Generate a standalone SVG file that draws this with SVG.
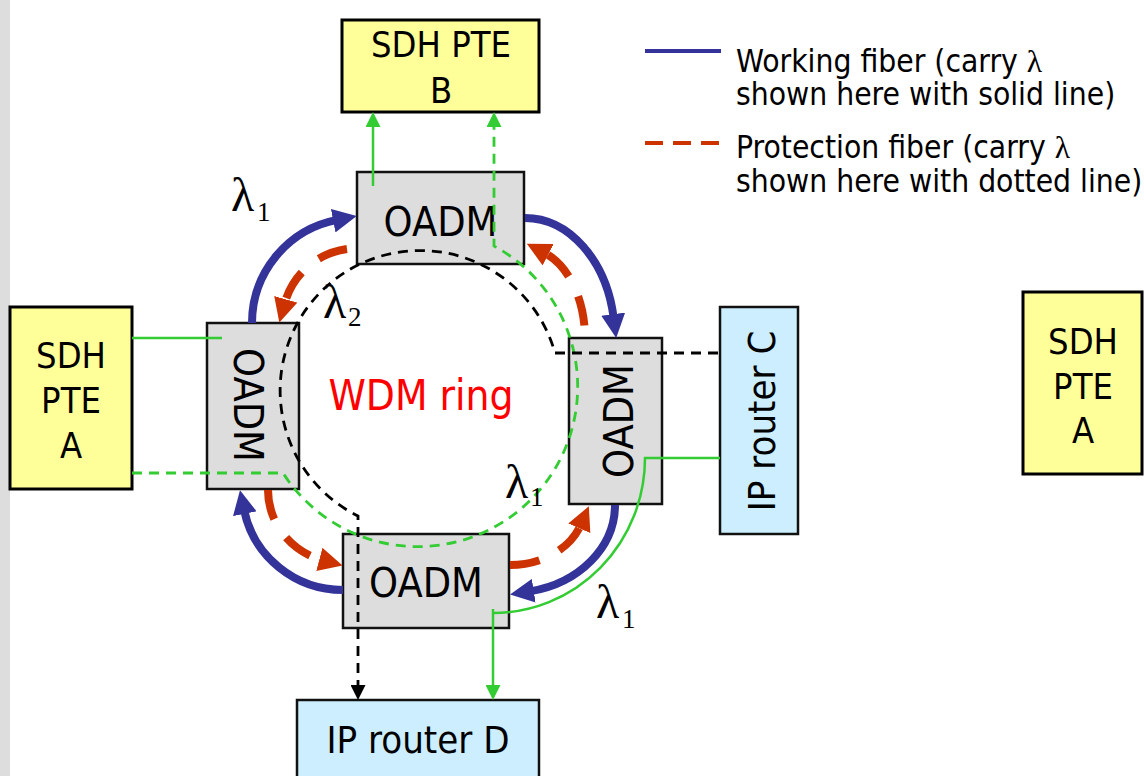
<svg xmlns="http://www.w3.org/2000/svg" width="1144" height="776" viewBox="0 0 1144 776">
<defs>
<style>
text{font-family:"DejaVu Sans Condensed","DejaVu Sans",sans-serif;font-stretch:condensed;fill:#000}
.pte{fill:#ffff99;stroke:#000;stroke-width:3}
.oadm{fill:#dddddd;stroke:#111;stroke-width:2.5}
.ipr{fill:#cceeff;stroke:#111;stroke-width:2.5}
.t36{font-size:36px;text-anchor:middle}
.t40{font-size:41px;text-anchor:middle}
.t38{font-size:38px;text-anchor:middle}
.leg{font-size:31.5px}
.lam{font-family:"Liberation Serif","Times New Roman",serif;font-size:48px}
.sub{font-family:"Liberation Serif","Times New Roman",serif;font-size:27px}
.work{fill:none;stroke:#333399;stroke-width:8;marker-end:url(#ah-blue)}
.prot{fill:none;stroke:#cc3300;stroke-width:8;stroke-dasharray:30 22;marker-end:url(#ah-red)}
.gs{fill:none;stroke:#33cc33;stroke-width:2.5}
.gd{fill:none;stroke:#33cc33;stroke-width:2.8;stroke-dasharray:10 7}
.bd{fill:none;stroke:#000;stroke-width:2.8;stroke-dasharray:10 7}
</style>
<marker id="ah-blue" markerUnits="userSpaceOnUse" viewBox="0 0 24 24" markerWidth="24" markerHeight="24" refX="4" refY="12" orient="auto"><path d="M0,0 L24,12 L0,24 z" fill="#333399"/></marker>
<marker id="ah-red" markerUnits="userSpaceOnUse" viewBox="0 0 24 24" markerWidth="24" markerHeight="24" refX="4" refY="12" orient="auto"><path d="M0,0 L24,12 L0,24 z" fill="#cc3300"/></marker>
<marker id="ah-green" markerUnits="userSpaceOnUse" viewBox="0 0 15 15" markerWidth="15" markerHeight="15" refX="12" refY="7.5" orient="auto"><path d="M0,0 L15,7.5 L0,15 z" fill="#33cc33"/></marker>
<marker id="ah-black" markerUnits="userSpaceOnUse" viewBox="0 0 15 15" markerWidth="15" markerHeight="15" refX="12" refY="7.5" orient="auto"><path d="M0,0 L15,7.5 L0,15 z" fill="#000"/></marker>
</defs>
<rect x="0" y="0" width="1144" height="776" fill="#ffffff"/>
<rect x="0" y="0" width="10" height="776" fill="#dddddd"/>

<g id="nodes">
<g id="sdh-pte-a-left"><rect class="pte" x="10" y="307" width="122" height="182"/><text class="t36" x="71" y="368">SDH</text><text class="t36" x="71" y="413">PTE</text><text class="t36" x="71" y="458">A</text></g>
<g id="sdh-pte-a-right"><rect class="pte" x="1023" y="292" width="119" height="182"/><text class="t36" x="1083" y="354">SDH</text><text class="t36" x="1083" y="399">PTE</text><text class="t36" x="1083" y="443">A</text></g>
<g id="sdh-pte-b"><rect class="pte" x="342" y="20" width="197" height="92"/><text class="t36" x="441" y="57">SDH PTE</text><text class="t36" x="441" y="103">B</text></g>
<g id="oadm-top"><rect class="oadm" x="357" y="172" width="167" height="92"/><text class="t40" x="440.5" y="236">OADM</text></g>
<g id="oadm-left"><rect class="oadm" x="207" y="323" width="92" height="166"/><text class="t40" transform="translate(234,405) rotate(90)" x="0" y="0">OADM</text></g>
<g id="oadm-right"><rect class="oadm" x="569" y="338" width="93" height="166"/><text class="t40" transform="translate(633,421) rotate(-90)" x="0" y="0">OADM</text></g>
<g id="oadm-bottom"><rect class="oadm" x="343" y="534" width="166" height="94"/><text class="t40" x="426" y="597">OADM</text></g>
<g id="ip-router-c"><rect class="ipr" x="720" y="307" width="78" height="227"/><text class="t38" transform="translate(775,421) rotate(-90)" x="0" y="0">IP router C</text></g>
<g id="ip-router-d"><rect class="ipr" x="297" y="700" width="242" height="90"/><text class="t38" x="418" y="753">IP router D</text></g>
<g id="wdm-ring-label"><text x="421" y="410" style="font-size:42px;text-anchor:middle;fill:#ff0000">WDM ring</text></g>
</g>

<g id="connectors">
<path class="work" d="M252,323 A105,105 0 0,1 337.1,219.9"/>
<path class="work" d="M525,218 A90,120 0 0,1 613.7,318.1"/>
<path class="work" d="M615,505 A105,88 0 0,1 529.8,591.4"/>
<path class="work" d="M343,590 A101,100 0 0,1 244,509.8"/>
<path class="prot" d="M347,249 A75,75 0 0,0 284.7,303.2"/>
<path class="prot" d="M584.4,325.5 A60,90 0 0,0 544.6,252.9"/>
<path class="prot" d="M510,565 A75,60 0 0,0 580.9,524.6"/>
<path class="prot" d="M268,490 A75,73 0 0,0 323.2,560.4"/>
<path class="gs" d="M373,186 V115" marker-end="url(#ah-green)"/>
<path class="gd" d="M132,473 H283 A160,160 0 1,0 494,246 V115" marker-end="url(#ah-green)"/>
<path class="gs" d="M132,338 H222"/>
<path class="gs" d="M720,458 H645 A152,155 0 0,1 493,613"/>
<path class="gs" d="M493,609 V697" marker-end="url(#ah-green)"/>
<path class="bd" d="M718,353 H555 A140,140 0 1,0 358,516 V697" marker-end="url(#ah-black)"/>
</g>

<g id="lambda-labels">
<text class="lam" x="231" y="211">λ</text><text class="sub" x="257" y="221">1</text>
<text class="lam" x="323" y="318">λ</text><text class="sub" x="348" y="326">2</text>
<text class="lam" x="505" y="498">λ</text><text class="sub" x="530" y="506">1</text>
<text class="lam" x="596" y="618">λ</text><text class="sub" x="622" y="628">1</text>
</g>

<g id="legend">
<line x1="645" y1="51" x2="721" y2="51" stroke="#333399" stroke-width="4"/>
<line x1="645" y1="143" x2="721" y2="143" stroke="#cc3300" stroke-width="4" stroke-dasharray="18 10"/>
<text class="leg" x="736" y="72">Working fiber (carry <tspan style="font-family:'Liberation Serif',serif">λ</tspan></text>
<text class="leg" x="736" y="105">shown here with solid line)</text>
<text class="leg" x="736" y="158">Protection fiber (carry <tspan style="font-family:'Liberation Serif',serif">λ</tspan></text>
<text class="leg" x="736" y="192">shown here with dotted line)</text>
</g>
</svg>
